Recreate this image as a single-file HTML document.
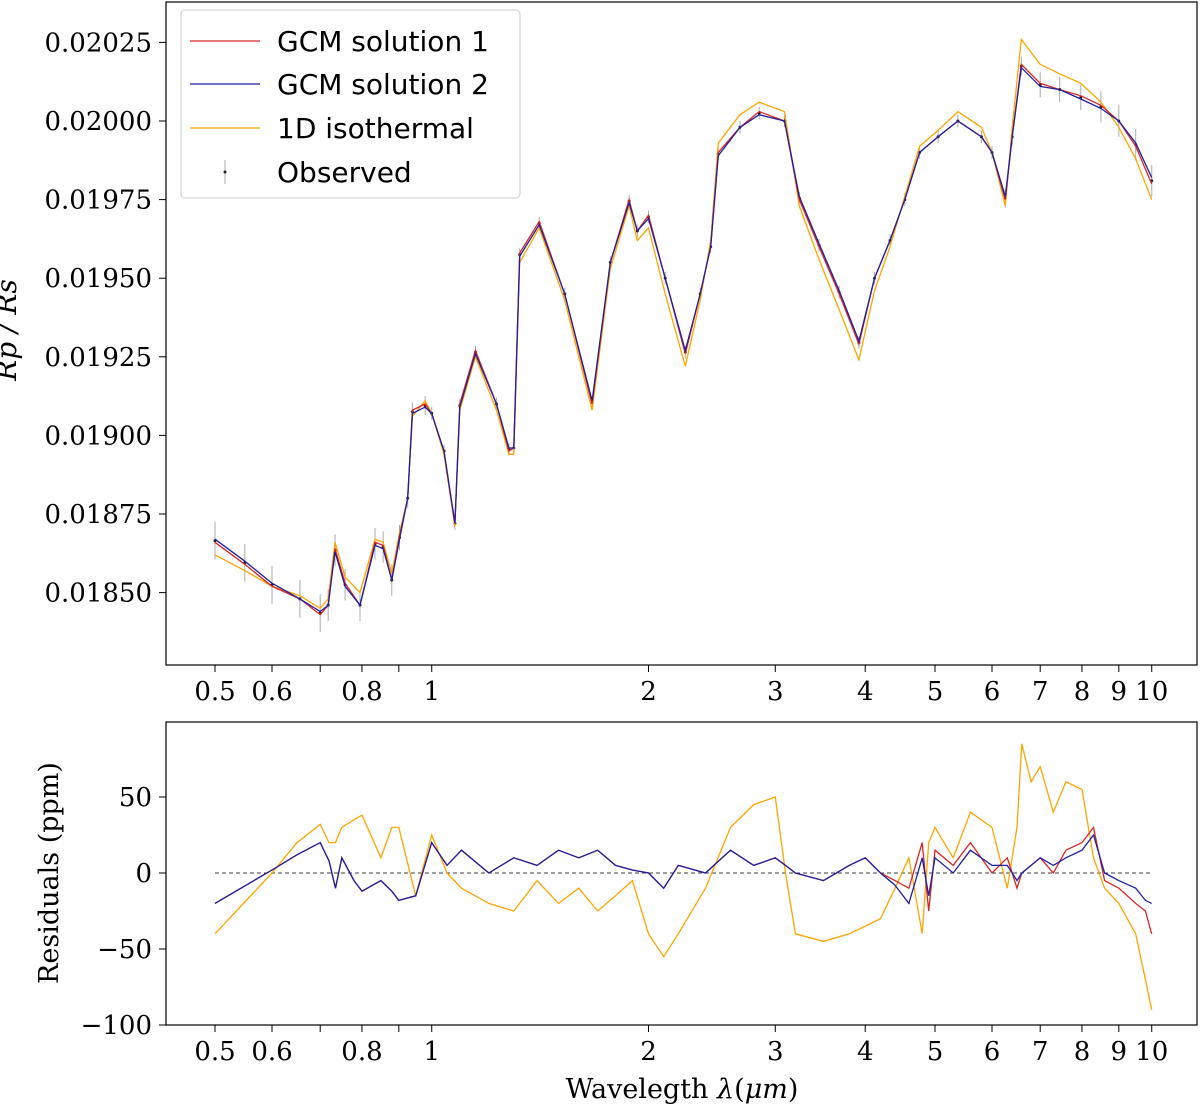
<!DOCTYPE html>
<html><head><meta charset="utf-8"><style>
html,body{margin:0;padding:0;background:#fff;}
svg{display:block;}
text{font-family:"DejaVu Serif","Liberation Serif",serif;fill:#000;}
</style></head><body>
<svg id="chart" width="1200" height="1107" viewBox="0 0 1200 1107" xmlns="http://www.w3.org/2000/svg">
<g id="topPanel"></g>
<g id="botPanel"></g>
</svg>
<script>
// ---- data: spectrum ----
const wl = [0.5,0.55,0.6,0.656,0.7,0.718,0.734,0.758,0.795,0.834,0.856,0.88,0.902,0.926,0.94,0.979,1.0,1.04,1.077,1.094,1.15,1.23,1.28,1.30,1.325,1.41,1.53,1.67,1.77,1.88,1.93,2.0,2.11,2.25,2.36,2.44,2.5,2.68,2.85,3.09,3.24,3.45,3.68,3.92,4.12,4.33,4.54,4.76,5.05,5.38,5.8,6.0,6.26,6.4,6.59,7.0,7.45,7.97,8.5,9.0,9.5,10];
const gcm1 = [0.01866,0.01859,0.01852,0.01848,0.01843,0.01846,0.01864,0.01853,0.01846,0.01866,0.01865,0.01854,0.01868,0.01880,0.01908,0.01910,0.01907,0.01895,0.01872,0.01910,0.01927,0.01910,0.01895,0.01896,0.01958,0.01968,0.01945,0.01910,0.01955,0.01975,0.01965,0.01970,0.01950,0.01926,0.01945,0.01960,0.01990,0.01998,0.02003,0.02000,0.01975,0.01960,0.01945,0.01929,0.01950,0.01962,0.01975,0.01990,0.01995,0.02000,0.01995,0.01990,0.01975,0.01995,0.02018,0.02012,0.02010,0.02008,0.02005,0.02000,0.01992,0.01980];
const gcm2 = [0.01867,0.01860,0.01853,0.01848,0.01844,0.01846,0.01863,0.01852,0.01846,0.01865,0.01864,0.01854,0.01867,0.01880,0.01907,0.01909,0.01907,0.01895,0.01872,0.01909,0.01926,0.01910,0.01896,0.01896,0.01957,0.01967,0.01945,0.01911,0.01955,0.01974,0.01965,0.01969,0.01950,0.01927,0.01945,0.01960,0.01989,0.01998,0.02002,0.02000,0.01976,0.01961,0.01946,0.01930,0.01950,0.01962,0.01975,0.01990,0.01995,0.02000,0.01995,0.01990,0.01976,0.01995,0.02017,0.02011,0.02010,0.02007,0.02004,0.02000,0.01993,0.01982];
const iso1d = [0.01862,0.01857,0.01852,0.01849,0.01845,0.01848,0.01866,0.01855,0.01850,0.01867,0.01866,0.01856,0.01869,0.01880,0.01906,0.01911,0.01907,0.01894,0.01871,0.01908,0.01925,0.01908,0.01894,0.01894,0.01955,0.01966,0.01943,0.01908,0.01953,0.01973,0.01962,0.01966,0.01945,0.01922,0.01943,0.01962,0.01993,0.02002,0.02006,0.02003,0.01973,0.01956,0.01940,0.01924,0.01946,0.01960,0.01976,0.01992,0.01997,0.02003,0.01998,0.01990,0.01973,0.01998,0.02026,0.02018,0.02015,0.02012,0.02006,0.01998,0.01988,0.01975];
const obsErr = [0.00006,0.00006,0.00006,0.00006,0.00006,0.00005,0.00005,0.00005,0.00005,0.00005,0.00005,0.00005,0.00004,0.00003,0.00003,0.00003,0.00002,0.00002,0.00002,0.00002,0.00002,0.00002,0.00002,0.00002,0.00002,0.00002,0.00002,0.00002,0.00002,0.00002,0.00002,0.00002,0.00002,0.00002,0.00002,0.00002,0.00002,0.00002,0.00002,0.00002,0.00002,0.00002,0.00002,0.00002,0.00002,0.00002,0.00002,0.00002,0.00002,0.00002,0.00002,0.00002,0.00003,0.00003,0.00003,0.00004,0.00004,0.00004,0.00005,0.00005,0.00005,0.00005];
const yTicks = [0.0185,0.01875,0.019,0.01925,0.0195,0.01975,0.02,0.02025];
const yTickLabels = ["0.01850","0.01875","0.01900","0.01925","0.01950","0.01975","0.02000","0.02025"];
const xTicks = [0.5,0.6,0.7,0.8,0.9,1,2,3,4,5,6,7,8,9,10];
const xTickLabels = ["0.5","0.6","","0.8","","1","2","3","4","5","6","7","8","9","10"];
// ---- data: residuals ----
const rwl = [0.5,0.6,0.65,0.7,0.72,0.735,0.75,0.78,0.8,0.85,0.88,0.9,0.95,1.0,1.05,1.1,1.2,1.3,1.4,1.5,1.6,1.7,1.8,1.9,2.0,2.1,2.2,2.4,2.6,2.8,3.0,3.1,3.2,3.5,3.8,4.0,4.2,4.4,4.6,4.8,4.9,5.0,5.3,5.6,6.0,6.3,6.5,6.6,6.8,7.0,7.3,7.6,8.0,8.3,8.6,9.0,9.5,9.8,10];
const res1 = [-20,2,12,20,8,-10,10,-5,-12,-5,-12,-18,-15,20,5,15,0,10,5,15,10,15,5,2,0,-10,5,0,15,5,10,5,0,-5,5,10,0,-5,-10,20,-25,15,5,20,0,10,-10,0,5,10,0,15,20,30,-5,-10,-20,-25,-40];
const res2 = [-20,2,12,20,8,-10,10,-5,-12,-5,-12,-18,-15,20,5,15,0,10,5,15,10,15,5,2,0,-10,5,0,15,5,10,5,0,-5,5,10,0,-8,-20,10,-15,10,0,15,5,5,-5,0,5,10,5,10,15,25,0,-5,-10,-18,-20];
const res1d = [-40,0,20,32,20,20,30,35,38,10,30,30,-15,25,0,-10,-20,-25,-5,-20,-10,-25,-15,-5,-40,-55,-40,-10,30,45,50,0,-40,-45,-40,-35,-30,-10,10,-40,20,30,10,40,30,-10,30,85,60,70,40,60,55,10,-10,-20,-40,-70,-90];
const rTicks = [-100,-50,0,50];
const rTickLabels = ["\u2212100","\u221250","0","50"];

// ---- axes ----
const X0 = 215, PXDEC = 720;
const xs = v => X0 + PXDEC*Math.log10(v/0.5);
const ys = v => 121 - (v-0.02)/0.00025*78.6;
const yr = v => 873 - v*1.52;
const NS = "http://www.w3.org/2000/svg";
function mk(parent, tag, attrs){const e=document.createElementNS(NS,tag);for(const k in attrs)e.setAttribute(k,attrs[k]);parent.appendChild(e);return e;}
const topG = document.getElementById('topPanel'), botG = document.getElementById('botPanel');

function drawLine(parent, xsArr, ysArr, sx, sy, color, name){
  let d = xsArr.map((v,i)=>(i?'L':'M')+sx(v).toFixed(1)+','+sy(ysArr[i]).toFixed(1)).join(' ');
  const p = mk(parent,'path',{d:d,fill:'none',stroke:color,'stroke-width':1.3});
  
  
}

// top panel: error bars + points
const obsG = mk(topG,'g',{});


wl.forEach((w,i)=>{
  const m = (gcm1[i]+gcm2[i])/2;
  const l = mk(obsG,'line',{x1:xs(w),x2:xs(w),y1:ys(m-obsErr[i]),y2:ys(m+obsErr[i]),stroke:'#aaa','stroke-width':1});
  
  
});
drawLine(topG, wl, iso1d, xs, ys, '#ffa500', 'line-1d-isothermal');
drawLine(topG, wl, gcm1, xs, ys, '#d62728', 'line-gcm-solution-1');
drawLine(topG, wl, gcm2, xs, ys, '#1f1f9f', 'line-gcm-solution-2');
wl.forEach((w,i)=>{
  const c = mk(obsG,'circle',{cx:xs(w),cy:ys((gcm1[i]+gcm2[i])/2),r:1.5,fill:'#222'});
  
  
});
const f1 = mk(topG,'rect',{x:166,y:2,width:1031,height:663,fill:'none',stroke:'#000','stroke-width':1.2});


yTicks.forEach((v,i)=>{
  mk(topG,'line',{x1:159,x2:166,y1:ys(v),y2:ys(v),stroke:'#000'});
  const t = mk(topG,'text',{x:152,y:ys(v)+9,'text-anchor':'end','font-size':26});
  t.textContent = yTickLabels[i];
  
  
});
function xAxis(parent, yb){
  xTicks.forEach((v,i)=>{
    mk(parent,'line',{x1:xs(v),x2:xs(v),y1:yb,y2:yb+7,stroke:'#000'});
    if(xTickLabels[i]){
      const t = mk(parent,'text',{x:xs(v),y:yb+35,'text-anchor':'middle','font-size':26});
      t.textContent = xTickLabels[i];
      
      
    }
  });
}
xAxis(topG, 665);
const yl = mk(topG,'text',{x:0,y:0,'text-anchor':'middle','font-size':28,'font-style':'italic',transform:'translate(16,330) rotate(-90)'});
yl.textContent = 'Rp / Rs';



// legend
const lg = mk(topG,'g',{});


mk(lg,'rect',{x:181,y:10,width:339,height:188,rx:4,fill:'#fff','fill-opacity':0.9,stroke:'#ccc'});
const legItems = [['GCM solution 1','#d62728',41],['GCM solution 2','#1f1f9f',84],['1D isothermal','#ffa500',128],['Observed','#222',172]];
legItems.forEach((it,i)=>{
  if(i<3){ mk(lg,'line',{x1:190,x2:260,y1:it[2],y2:it[2],stroke:it[1],'stroke-width':1.3}); }
  else { mk(lg,'line',{x1:225,x2:225,y1:it[2]-12,y2:it[2]+12,stroke:'#aaa'}); mk(lg,'circle',{cx:225,cy:it[2],r:1.5,fill:'#222'}); }
  const t = mk(lg,'text',{x:277,y:it[2]+10,'font-size':28,style:'font-family:"DejaVu Sans","Liberation Sans",sans-serif'});
  t.textContent = it[0];
  
  
});

// bottom panel
const zl = mk(botG,'line',{x1:215,x2:1152,y1:yr(0),y2:yr(0),stroke:'#000','stroke-width':0.8,'stroke-dasharray':'4,3'});


drawLine(botG, rwl, res1d, xs, yr, '#ffa500', 'residual-1d-isothermal');
drawLine(botG, rwl, res1, xs, yr, '#d62728', 'residual-gcm-1');
drawLine(botG, rwl, res2, xs, yr, '#1f1f9f', 'residual-gcm-2');
const f2 = mk(botG,'rect',{x:166,y:722,width:1031,height:303,fill:'none',stroke:'#000','stroke-width':1.2});


rTicks.forEach((v,i)=>{
  mk(botG,'line',{x1:159,x2:166,y1:yr(v),y2:yr(v),stroke:'#000'});
  const t = mk(botG,'text',{x:152,y:yr(v)+9,'text-anchor':'end','font-size':26});
  t.textContent = rTickLabels[i];
  
  
});
xAxis(botG, 1025);
const ry = mk(botG,'text',{x:0,y:0,'text-anchor':'middle','font-size':27,transform:'translate(58,873) rotate(-90)'});
ry.textContent = 'Residuals (ppm)';


const xl = mk(botG,'text',{x:682,y:1098,'text-anchor':'middle','font-size':27});
xl.innerHTML = 'Wavelegth <tspan font-style="italic">λ</tspan>(<tspan font-style="italic">μm</tspan>)';


</script>
</body></html>
